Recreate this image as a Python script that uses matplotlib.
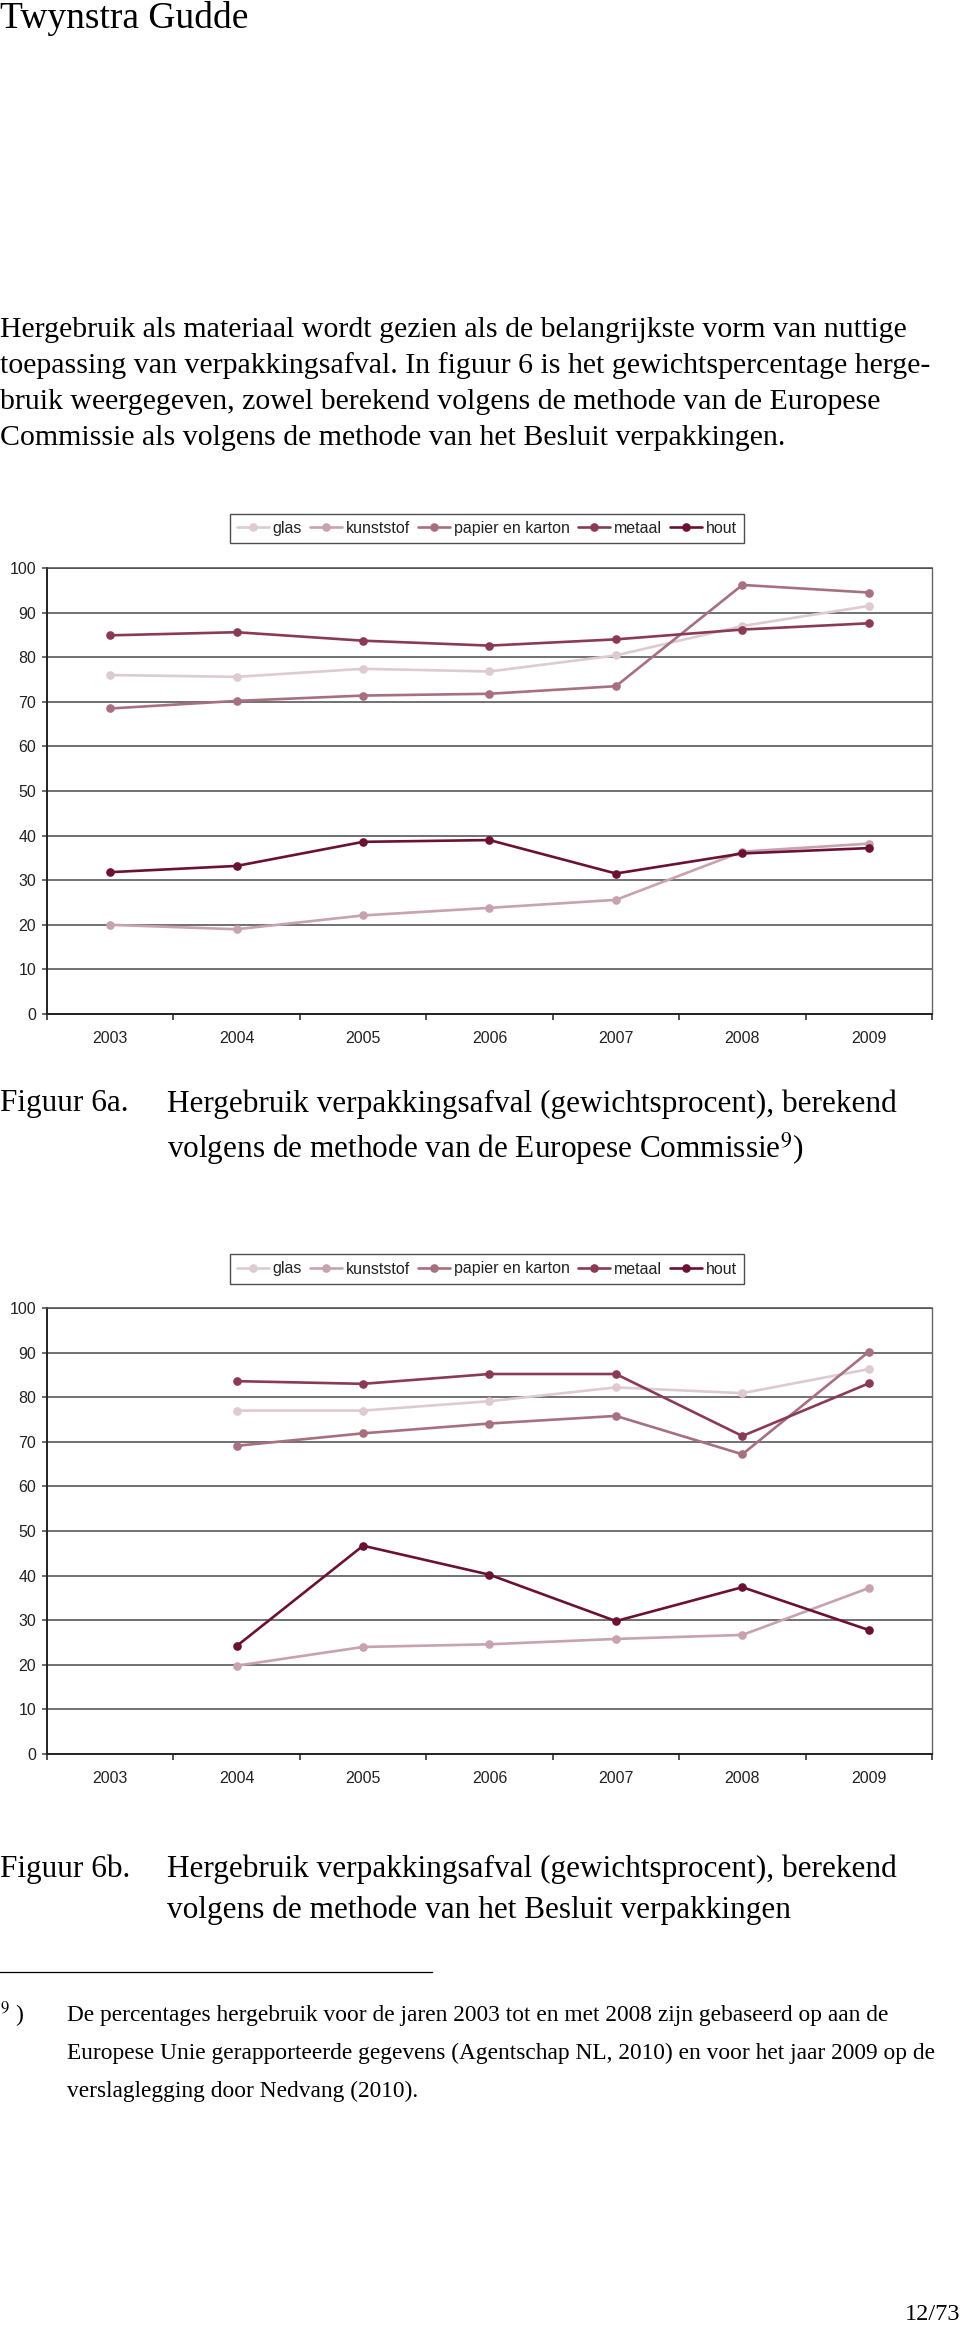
import numpy as np
import matplotlib
matplotlib.use("Agg")
from matplotlib import pyplot as plt

#data figuur 6a (methode Europese Commissie)
jaren = ["2003", "2004", "2005", "2006", "2007", "2008", "2009"]
series = ["glas", "kunststof", "papier en karton", "metaal", "hout"]
glas_a = [76.0, 75.6, 77.4, 76.8, 80.4, 87.0, 91.5]
kunststof_a = [20.0, 19.0, 22.1, 23.8, 25.6, 36.4, 38.2]
papier_a = [68.5, 70.2, 71.4, 71.8, 73.5, 96.2, 94.5]
metaal_a = [84.9, 85.6, 83.7, 82.6, 84.0, 86.2, 87.6]
hout_a = [31.8, 33.2, 38.6, 39.0, 31.5, 36.0, 37.2]

#data figuur 6b (methode Besluit verpakkingen), geen waarde voor 2003
glas_b = [np.nan, 77.0, 77.0, 79.1, 82.2, 80.9, 86.3]
kunststof_b = [np.nan, 19.8, 24.0, 24.6, 25.8, 26.7, 37.2]
papier_b = [np.nan, 69.1, 71.9, 74.1, 75.8, 67.2, 90.2]
metaal_b = [np.nan, 83.6, 83.0, 85.2, 85.2, 71.3, 83.1]
hout_b = [np.nan, 24.2, 46.7, 40.2, 29.8, 37.4, 27.8]

yticks = [0, 10, 20, 30, 40, 50, 60, 70, 80, 90, 100]

kleuren = ["#DDCBD1", "#C7A2AF", "#A7707F", "#8A3A57", "#6B1133"]

W, H = 960, 2332
fig = plt.figure(figsize=(W/100, H/100), dpi=100)
fig.patch.set_facecolor("white")

serif = "Liberation Serif"
sans = "Liberation Sans"
plt.rcParams["mathtext.fontset"] = "stix"

def fy(py):
    # pixel y (van boven) -> figuur fractie
    return 1 - py/H

def grafiek(top, bottom, legend_y, data):
    ax = fig.add_axes([47/W, fy(bottom), 885/W, (bottom-top)/H])
    x = np.arange(len(jaren))
    for vals, naam, kl in zip(data, series, kleuren):
        ax.plot(x, vals, color=kl, lw=1.9, marker="o", ms=5.2, label=naam,
                solid_capstyle="round", clip_on=False)
    ax.set_xlim(-0.5, 6.5)
    ax.set_ylim(0, 100)
    ax.set_yticks(yticks)
    ax.set_yticklabels([str(v) for v in yticks], fontsize=11.5, family=sans, color="#222222")
    ax.set_xticks(x)
    ax.set_xticklabels(jaren, fontsize=11.5, family=sans, color="#222222")
    ax.set_xticks(np.arange(-0.5, 7, 1), minor=True)
    ax.tick_params(axis="x", which="major", length=0, pad=12)
    ax.tick_params(axis="x", which="minor", length=4.5, width=1.1, direction="out", color="#222222")
    ax.tick_params(axis="y", which="major", length=3.8, width=1.1, pad=4, color="#444444")
    ax.grid(axis="y", color="#4a4a4a", lw=1.1)
    ax.set_axisbelow(True)
    ax.spines["left"].set_color("#222222")
    ax.spines["left"].set_linewidth(1.4)
    ax.spines["bottom"].set_color("#222222")
    ax.spines["bottom"].set_linewidth(1.4)
    ax.spines["right"].set_color("#666666")
    ax.spines["right"].set_linewidth(1.0)
    ax.spines["top"].set_color("#4a4a4a")
    ax.spines["top"].set_linewidth(1.1)
    leg = fig.legend(*ax.get_legend_handles_labels(), loc="center",
                     bbox_to_anchor=(487/W, fy(legend_y)), ncol=5, numpoints=1,
                     prop={"family": sans, "size": 11.5}, handlelength=2.0,
                     handletextpad=0.25, columnspacing=0.5, borderpad=0.45,
                     frameon=True, fancybox=False, edgecolor="#222222")
    leg.get_frame().set_linewidth(1.0)
    for t in leg.get_texts():
        t.set_color("#222222")
    return ax

grafiek(568, 1014, 528.5, [glas_a, kunststof_a, papier_a, metaal_a, hout_a])
grafiek(1308, 1754, 1269, [glas_b, kunststof_b, papier_b, metaal_b, hout_b])

#teksten pagina
fig.text(0, fy(19), "Twynstra Gudde", family=serif, fontsize=27, va="center", ha="left")

alinea = ["Hergebruik als materiaal wordt gezien als de belangrijkste vorm van nuttige",
          "toepassing van verpakkingsafval. In figuur 6 is het gewichtspercentage herge-",
          "bruik weergegeven, zowel berekend volgens de methode van de Europese",
          "Commissie als volgens de methode van het Besluit verpakkingen."]
for i, regel in enumerate(alinea):
    fig.text(0, fy(330 + 36*i), regel, family=serif, fontsize=21.5, va="center", ha="left")

cap = 22.5
fig.text(0, fy(1104), "Figuur 6a.", family=serif, fontsize=cap, va="center")
fig.text(167/W, fy(1104), "Hergebruik verpakkingsafval (gewichtsprocent), berekend",
         family=serif, fontsize=cap, va="center")
fig.text(167/W, fy(1149), "volgens de methode van de Europese Commissie$^{9}$)",
         family=serif, fontsize=cap, va="center")

fig.text(0, fy(1869), "Figuur 6b.", family=serif, fontsize=cap, va="center")
fig.text(167/W, fy(1869), "Hergebruik verpakkingsafval (gewichtsprocent), berekend",
         family=serif, fontsize=cap, va="center")
fig.text(167/W, fy(1910), "volgens de methode van het Besluit verpakkingen",
         family=serif, fontsize=cap, va="center")

#voetnoot
fig.add_artist(plt.Line2D([0, 432/W], [fy(1972), fy(1972)], color="black", lw=0.9))
fig.text(0, fy(2015), "$^{9}$ )", family=serif, fontsize=17, va="center")
voetnoot = ["De percentages hergebruik voor de jaren 2003 tot en met 2008 zijn gebaseerd op aan de",
            "Europese Unie gerapporteerde gegevens (Agentschap NL, 2010) en voor het jaar 2009 op de",
            "verslaglegging door Nedvang (2010)."]
for i, regel in enumerate(voetnoot):
    fig.text(67/W, fy(2015 + 38*i), regel, family=serif, fontsize=16.8, va="center")

fig.text(1, fy(2315), "12/73", family=serif, fontsize=17.5, va="center", ha="right")

fig.savefig("out.png", dpi=100, facecolor="white")
